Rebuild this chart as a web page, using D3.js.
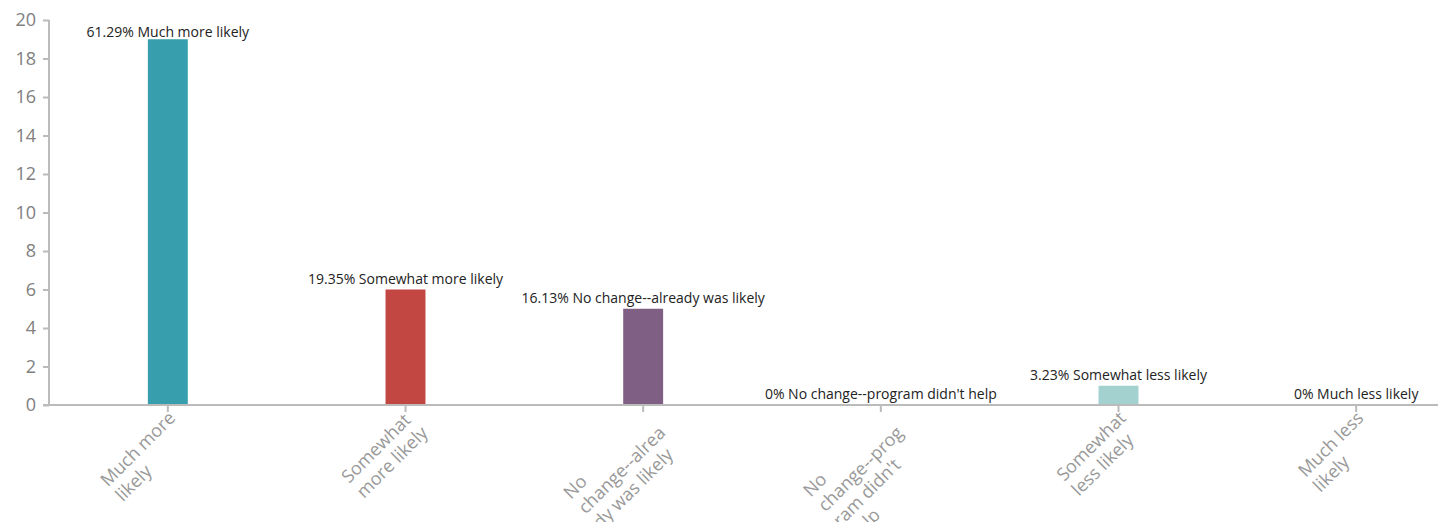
<!DOCTYPE html>
<html>
<head>
<meta charset="utf-8">
<script src="https://cdn.jsdelivr.net/npm/d3@7"></script>
<style>
  html, body { margin: 0; padding: 0; background: #fff; }
  svg { display: block; }
</style>
</head>
<body>
<svg id="chart" width="1438" height="522"></svg>
<script>
const categories = [
  "Much more likely",
  "Somewhat more likely",
  "No change--already was likely",
  "No change--program didn't help",
  "Somewhat less likely",
  "Much less likely"
];
const axisLabelLines = [
  ["Much more", "likely"],
  ["Somewhat", "more likely"],
  ["No", "change--alrea", "dy was likely"],
  ["No", "change--prog", "ram didn't", "help"],
  ["Somewhat", "less likely"],
  ["Much less", "likely"]
];
const counts = [19, 6, 5, 0, 1, 0];
const percentLabels = ["61.29%", "19.35%", "16.13%", "0%", "3.23%", "0%"];
const colors = ["#369EAD", "#C24642", "#7F6084", "#86B402", "#A2D1CF", "#C8B631"];
const yTicks = [0, 2, 4, 6, 8, 10, 12, 14, 16, 18, 20];

const svg = d3.select("#chart");
const plotLeft = 49, plotRight = 1475, plotTop = 20, plotBottom = 405;
const FONT = "'Open Sans', 'DejaVu Sans', sans-serif";

const x = d3.scaleBand().domain(categories).range([plotLeft, plotRight]).paddingInner(0).paddingOuter(0);
const y = d3.scaleLinear().domain([0, 20]).range([plotBottom, plotTop]);
const barW = x.step() * 0.168;

// Y axis
const yAxis = svg.append("g").attr("transform", `translate(${plotLeft},0)`)
  .call(d3.axisLeft(y).tickValues(yTicks).tickSize(6).tickPadding(7));
yAxis.select(".domain").attr("stroke", "#BBBBBB").attr("stroke-width", 2).attr("d", `M-0,${plotTop}V${plotBottom}`);
yAxis.selectAll(".tick line").attr("stroke", "#BBBBBB").attr("stroke-width", 2);
yAxis.selectAll(".tick text").attr("fill", "#808080").style("font-family", FONT).style("font-size", "18px");

// Bars
svg.append("g").selectAll("rect").data(categories).join("rect")
  .attr("x", d => x(d) + x.bandwidth() / 2 - barW / 2)
  .attr("width", barW)
  .attr("y", (d, i) => y(counts[i]))
  .attr("height", (d, i) => y(0) - y(counts[i]))
  .attr("fill", (d, i) => colors[i]);

// X axis
const xAxis = svg.append("g").attr("transform", `translate(0,${plotBottom})`)
  .call(d3.axisBottom(x).tickSize(7).tickFormat(""));
xAxis.select(".domain").attr("stroke", "#BBBBBB").attr("stroke-width", 2).attr("d", `M${plotLeft - 6},0H${plotRight}`);
xAxis.selectAll(".tick line").attr("stroke", "#BBBBBB").attr("stroke-width", 2);

// Rotated multi-line axis labels (left-aligned block whose right edge sits near the tick)
const lineH = 21;
xAxis.selectAll(".tick").each(function(d, i) {
  const g = d3.select(this).append("g").attr("transform", "rotate(-45)");
  const lines = axisLabelLines[i];
  const texts = lines.map((ln, j) => g.append("text")
    .attr("fill", "#999999")
    .attr("text-anchor", "start")
    .style("font-family", FONT).style("font-size", "18px")
    .attr("y", 16 + j * lineH)
    .text(ln));
  const maxW = d3.max(texts, t => t.node().getComputedTextLength());
  texts.forEach(t => t.attr("x", -maxW - 4));
});

// Index labels
svg.append("g").selectAll("text").data(categories).join("text")
  .attr("x", d => x(d) + x.bandwidth() / 2)
  .attr("y", (d, i) => Math.max(y(counts[i]) - 6, plotTop + 17))
  .attr("text-anchor", "middle")
  .attr("fill", "#222222")
  .style("font-family", FONT).style("font-size", "14px")
  .text((d, i) => percentLabels[i] + " " + d);
</script>
</body>
</html>
